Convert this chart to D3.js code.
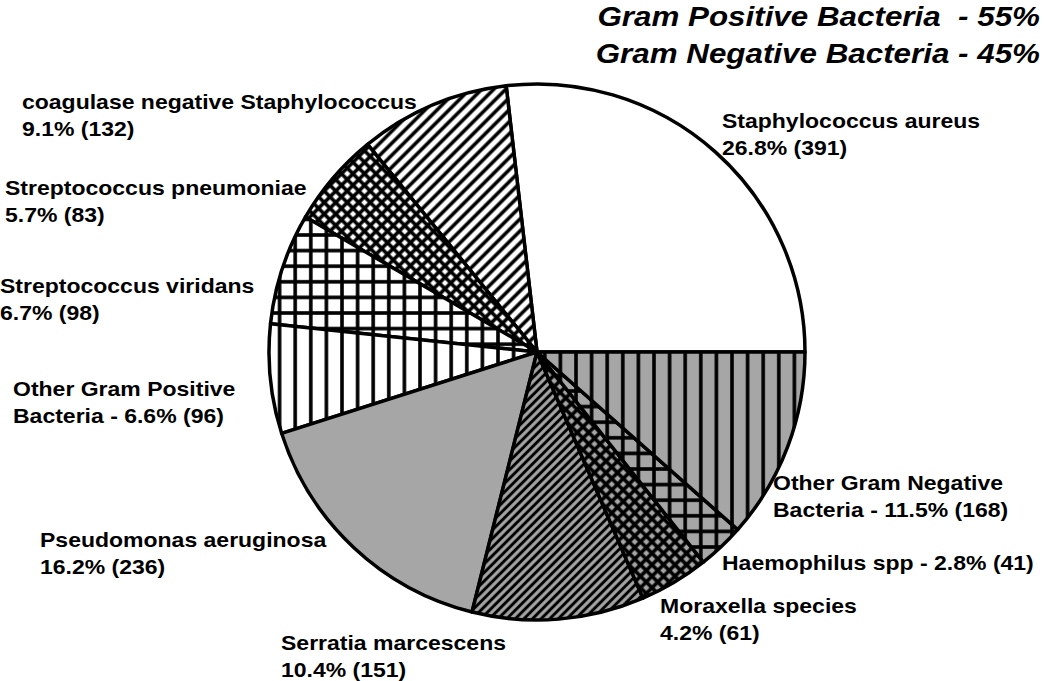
<!DOCTYPE html>
<html>
<head>
<meta charset="utf-8">
<script src="https://cdn.jsdelivr.net/npm/d3@7"></script>
<style>
  body { margin: 0; background: #fff; }
  text { font-family: "Liberation Sans", Arial, sans-serif; font-weight: bold; }
</style>
</head>
<body>
<div id="chart"></div>
<script>
// Organisms, counterclockwise from 3 o'clock
const organisms = ["Staphylococcus aureus", "coagulase negative Staphylococcus", "Streptococcus pneumoniae",
  "Streptococcus viridans", "Other Gram Positive Bacteria", "Pseudomonas aeruginosa", "Serratia marcescens",
  "Moraxella species", "Haemophilus spp", "Other Gram Negative Bacteria"];
const counts = [391, 132, 83, 98, 96, 236, 151, 61, 41, 168];
const percents = ["26.8%", "9.1%", "5.7%", "6.7%", "6.6%", "16.2%", "10.4%", "4.2%", "2.8%", "11.5%"];
const labelLine1 = ["Staphylococcus aureus", "coagulase negative Staphylococcus", "Streptococcus pneumoniae",
  "Streptococcus viridans", "Other Gram Positive", "Pseudomonas aeruginosa", "Serratia marcescens",
  "Moraxella species", "Haemophilus spp - 2.8% (41)", "Other Gram Negative"];
const labelLine2 = ["26.8% (391)", "9.1% (132)", "5.7% (83)", "6.7% (98)", "Bacteria - 6.6% (96)",
  "16.2% (236)", "10.4% (151)", "4.2% (61)", "", "Bacteria - 11.5% (168)"];
const titleLines = ["Gram Positive Bacteria  - 55%", "Gram Negative Bacteria - 45%"];

// fill style per slice: [background, hatch type]
const fills = [["#fff", "none"], ["#fff", "diag"], ["#fff", "diamond"], ["#fff", "grid"], ["#fff", "vert"],
  ["#a6a6a6", "none"], ["#a6a6a6", "diagfine"], ["#a6a6a6", "diamond"], ["#a6a6a6", "grid"], ["#a6a6a6", "vert"]];
// label anchor (left x, first baseline)
const labelPos = [[722, 128], [22, 109], [5, 195], [0, 293], [13, 396], [40, 547], [281, 650], [660, 613], [722, 570], [773, 490]];

const WIDTH = 1050, HEIGHT = 681;
const cx = 537, cy = 352, R = 268;
const STRETCH = 1.15; // the source lettering is horizontally wide

const svg = d3.select("#chart").append("svg")
  .attr("width", WIDTH).attr("height", HEIGHT);
const defs = svg.append("defs");

function makePattern(id, bg, type) {
  const sizes = { vert: 15.6, grid: 15.6, diag: 12, diagfine: 8.6, diamond: 11.5 };
  const s = sizes[type] || 10;
  const p = defs.append("pattern").attr("id", id)
    .attr("patternUnits", "userSpaceOnUse")
    .attr("width", s).attr("height", s);
  if (type === "diag" || type === "diagfine" || type === "diamond") {
    p.attr("patternTransform", "rotate(45)");
    p.attr("width", s / Math.SQRT2).attr("height", s / Math.SQRT2);
  }
  const w = +p.attr("width"), h = +p.attr("height");
  p.append("rect").attr("width", w).attr("height", h).attr("fill", bg);
  if (type === "none") return;
  p.append("line").attr("x1", w / 2).attr("x2", w / 2).attr("y1", -1).attr("y2", h + 1)
    .attr("stroke", "#000").attr("stroke-width", type === "diagfine" ? 3 : 3.6);
  if (type === "grid" || type === "diamond") {
    p.append("line").attr("y1", h / 2).attr("y2", h / 2).attr("x1", -1).attr("x2", w + 1)
      .attr("stroke", "#000").attr("stroke-width", 3.6);
  }
}
fills.forEach((f, i) => makePattern("pat" + i, f[0], f[1]));

const data = organisms.map((name, i) => ({ name, count: counts[i], idx: i }));

const pie = d3.pie().sort(null).value(d => d.count)
  .startAngle(Math.PI / 2).endAngle(Math.PI / 2 - 2 * Math.PI);
const arc = d3.arc().innerRadius(0).outerRadius(R);

const g = svg.append("g").attr("transform", `translate(${cx},${cy})`);
g.selectAll("path.slice")
  .data(pie(data))
  .enter().append("path")
  .attr("class", "slice")
  .attr("d", arc)
  .attr("fill", d => `url(#pat${d.data.idx})`)
  .attr("stroke", "#000")
  .attr("stroke-width", 3.5)
  .attr("stroke-linejoin", "round");

// slice labels
const labels = svg.selectAll("text.lbl")
  .data(organisms)
  .enter().append("text")
  .attr("class", "lbl")
  .attr("font-size", 20)
  .attr("transform", (d, i) => `translate(${labelPos[i][0]},${labelPos[i][1]}) scale(${STRETCH},1)`);
labels.append("tspan").attr("x", 0).text((d, i) => labelLine1[i]);
labels.append("tspan")
  .attr("x", 0)
  .attr("dy", 27)
  .text((d, i) => labelLine2[i]);

// title
svg.selectAll("text.title")
  .data(titleLines)
  .enter().append("text")
  .attr("class", "title")
  .attr("transform", (d, i) => `translate(1040,${26 + i * 37}) scale(1.12,1)`)
  .attr("text-anchor", "end")
  .attr("font-size", 28)
  .attr("font-style", "italic")
  .style("white-space", "pre")
  .text(d => d);
</script>
</body>
</html>
